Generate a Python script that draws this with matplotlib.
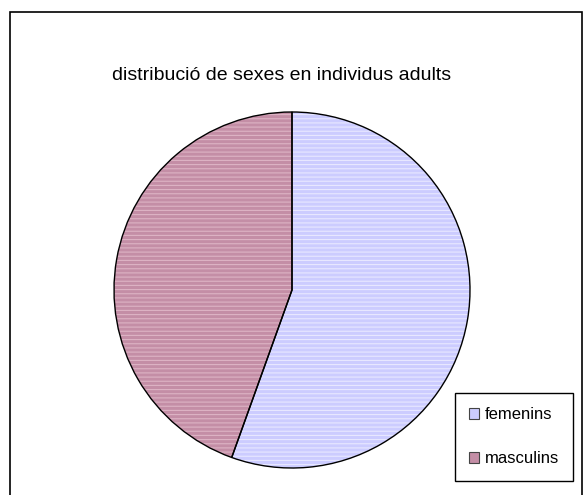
import matplotlib.pyplot as plt
from matplotlib.patches import Rectangle

plt.rcParams['font.family'] = ['Liberation Sans', 'DejaVu Sans']
plt.rcParams['hatch.linewidth'] = 0.8

# data
labels = ['femenins', 'masculins']
shares = [55.5, 44.5]
colors = ['#CCCCFF', '#C48EA6']
hatch_colors = ['#E8E8FF', '#DDB4C4']

W, H = 584, 495
fig = plt.figure(figsize=(W / 100, H / 100), dpi=100)
ax = fig.add_axes([0, 0, 1, 1])

# outer chart border (bottom runs off the picture)
ax.add_patch(Rectangle((10, -5), 572, H - 12 + 5, fill=False,
                       edgecolor='black', linewidth=1.2))

ax.text(282, H - 75, 'distribució de sexes en individus adults',
        ha='center', va='center', fontsize=14)

center = (292, H - 290)
radius = 178
pie_kw = dict(startangle=90, counterclock=False, center=center,
              radius=radius, frame=True)
# base fill
ax.pie(shares, colors=colors, wedgeprops=dict(linewidth=0), **pie_kw)
# texture of the original fill pattern
hatched, _ = ax.pie(shares, wedgeprops=dict(facecolor='none', linewidth=0), **pie_kw)
for w, hc in zip(hatched, hatch_colors):
    w.set_edgecolor(hc)
    w.set_hatch('----')
# outlines
ax.pie(shares, wedgeprops=dict(facecolor='none', edgecolor='black', linewidth=1), **pie_kw)

ax.set_xlim(0, W)
ax.set_ylim(0, H)
ax.set_aspect('equal')
ax.axis('off')

handles = [Rectangle((0, 0), 1, 1, facecolor=c, edgecolor='#444444', linewidth=0.8)
           for c in colors]
leg = fig.legend(handles, labels, loc='upper left',
                 bbox_to_anchor=(455 / W, 1 - 393 / H), fontsize=12,
                 frameon=True, fancybox=False, framealpha=1,
                 edgecolor='black', handlelength=0.6, handleheight=0.6,
                 handletextpad=0.35, labelspacing=1.75, borderpad=0.85,
                 borderaxespad=0)
leg.get_frame().set_linewidth(1)

fig.savefig('out.png', dpi=100)
